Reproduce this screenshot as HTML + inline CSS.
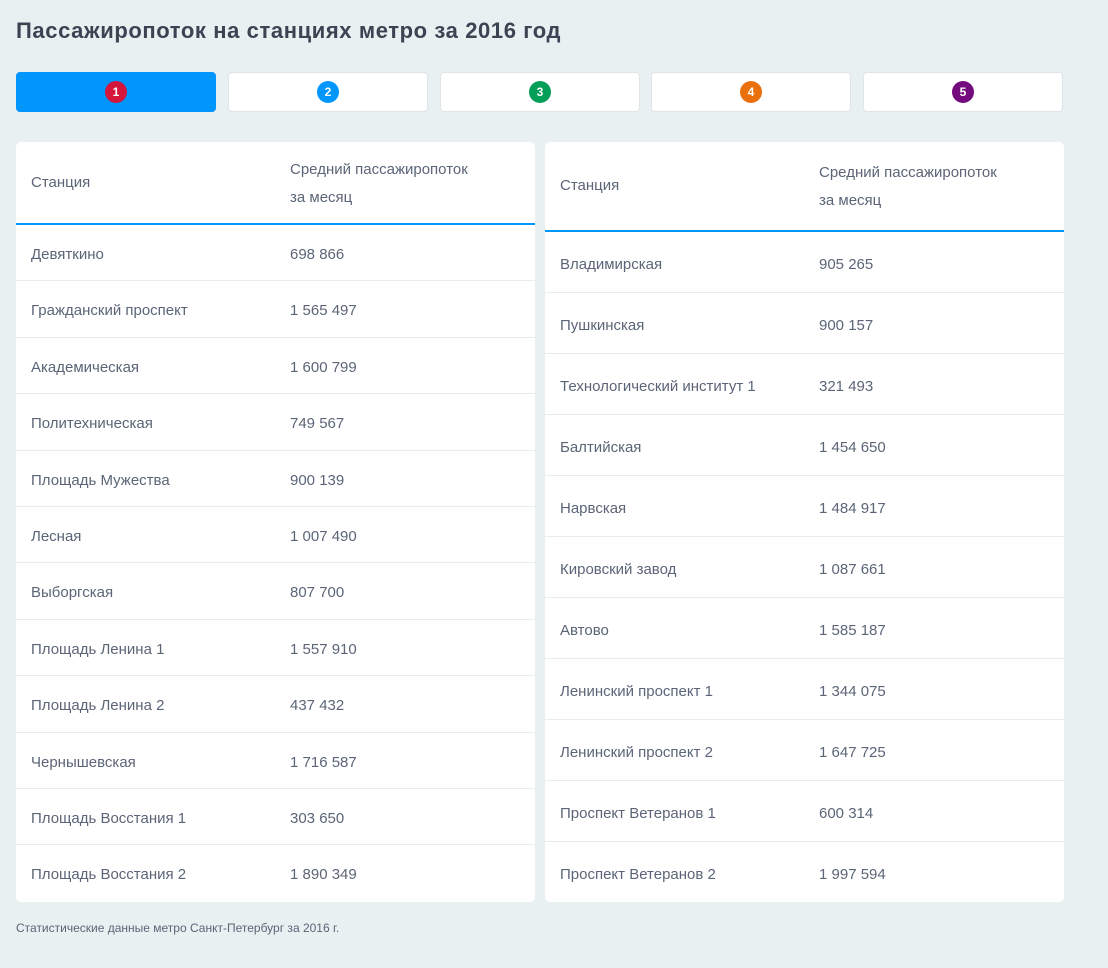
<!DOCTYPE html>
<html><head><meta charset="utf-8"><style>
*{margin:0;padding:0;box-sizing:border-box}
body{width:1108px;height:968px;background:#e8f0f2;font-family:"Liberation Sans",sans-serif;color:#5b6577;position:relative;overflow:hidden}
h1{position:absolute;left:16px;top:18px;font-size:22px;font-weight:bold;color:#3b4452;letter-spacing:0.6px}
.tab{position:absolute;top:72px;height:40px;width:200px;background:#fff;border:1px solid #dfe5e8;border-radius:4px}
.tab.a{background:#0096fb;border-color:#0096fb}
.tab span{position:absolute;left:50%;top:50%;width:22px;height:22px;margin:-11px 0 0 -11px;border-radius:50%;color:#fff;font-size:12px;font-weight:bold;text-align:center;line-height:22px}
.tbl{position:absolute;top:142px;width:519px;height:760px;background:#fff;border-radius:5px;overflow:hidden;font-size:15px}
.hd{position:relative;border-bottom:2px solid #0096fb}
.hd .c1{position:absolute;left:15px}
.hd .c2{position:absolute;left:274px;line-height:28px}
.row{position:relative;border-bottom:1px solid #e6ecef}
.row:last-child{border-bottom:none}
.row .c1{position:absolute;left:15px;top:2px}
.row .c2{position:absolute;left:274px;top:2px}
.foot{position:absolute;left:16px;top:921px;font-size:12px;color:#5b6577}
</style></head><body>
<h1>Пассажиропоток на станциях метро за 2016 год</h1>
<div class="tab a" style="left:16px"><span style="background:#d4163c">1</span></div>
<div class="tab" style="left:228px"><span style="background:#0096fb">2</span></div>
<div class="tab" style="left:440px"><span style="background:#039e58">3</span></div>
<div class="tab" style="left:651px"><span style="background:#e9700c">4</span></div>
<div class="tab" style="left:863px"><span style="background:#730b7c">5</span></div>

<div class="tbl" style="left:16px">
<div class="hd" style="height:83px"><div class="c1" style="top:32px">Станция</div><div class="c2" style="top:14px">Средний пассажиропоток<br>за месяц</div></div>
<div id="L"></div>
</div>
<div class="tbl" style="left:545px">
<div class="hd" style="height:90px"><div class="c1" style="top:35px">Станция</div><div class="c2" style="top:17px">Средний пассажиропоток<br>за месяц</div></div>
<div id="R"></div>
</div>
<div class="foot">Статистические данные метро Санкт-Петербург за 2016 г.</div>
<script>
var L=[["Девяткино","698 866"],["Гражданский проспект","1 565 497"],["Академическая","1 600 799"],["Политехническая","749 567"],["Площадь Мужества","900 139"],["Лесная","1 007 490"],["Выборгская","807 700"],["Площадь Ленина 1","1 557 910"],["Площадь Ленина 2","437 432"],["Чернышевская","1 716 587"],["Площадь Восстания 1","303 650"],["Площадь Восстания 2","1 890 349"]];
var R=[["Владимирская","905 265"],["Пушкинская","900 157"],["Технологический институт 1","321 493"],["Балтийская","1 454 650"],["Нарвская","1 484 917"],["Кировский завод","1 087 661"],["Автово","1 585 187"],["Ленинский проспект 1","1 344 075"],["Ленинский проспект 2","1 647 725"],["Проспект Ветеранов 1","600 314"],["Проспект Ветеранов 2","1 997 594"]];
function f(id,d,h){var s="";d.forEach(function(r){s+='<div class="row" style="height:'+h+'px;line-height:'+h+'px"><div class="c1">'+r[0]+'</div><div class="c2">'+r[1]+'</div></div>'});document.getElementById(id).innerHTML=s}
f("L",L,56.4);f("R",R,61);
</script>
</body></html>
